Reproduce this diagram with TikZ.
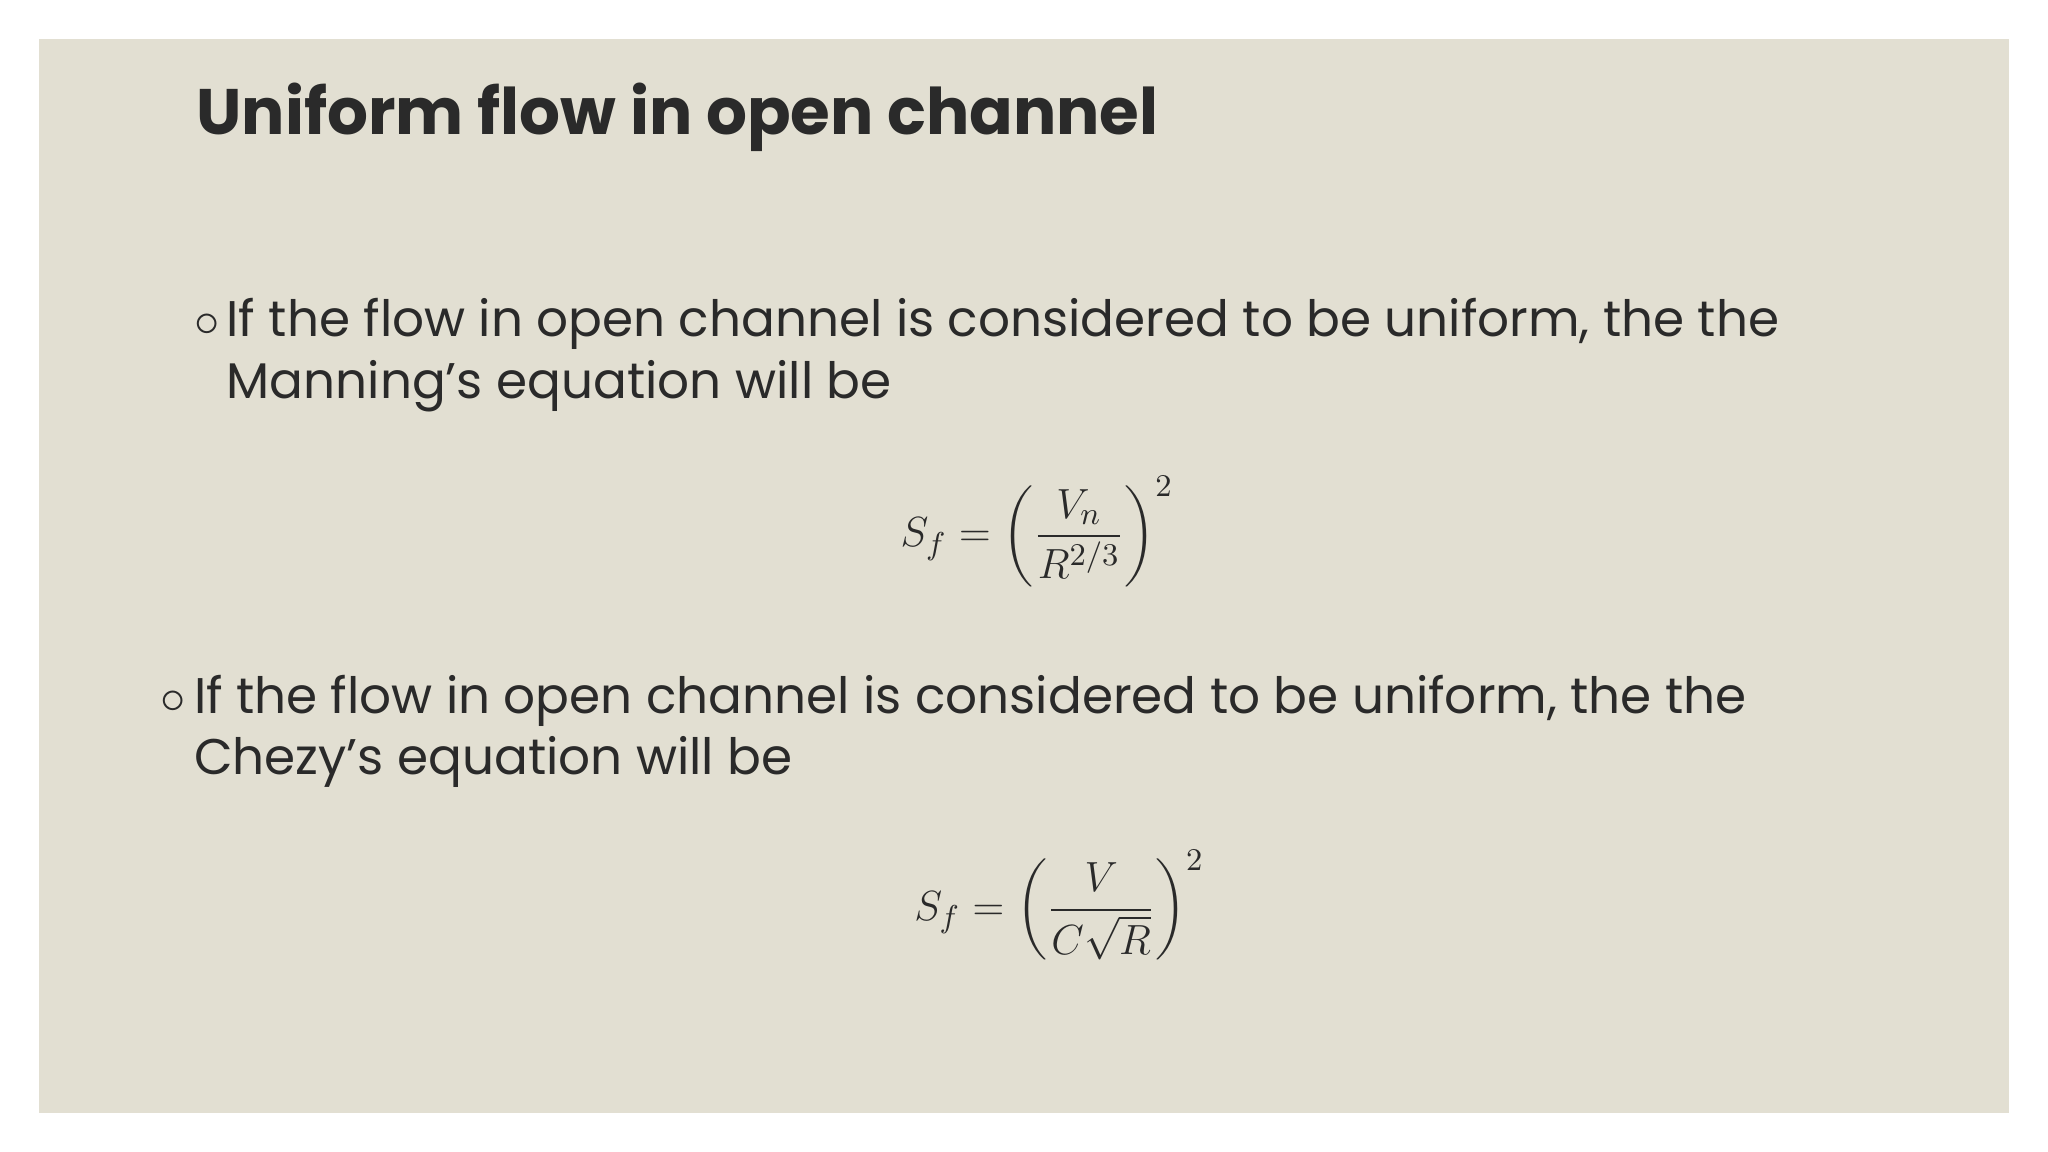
\documentclass[tikz,border=0pt]{standalone}
\usepackage{fontspec}
\setmainfont{Poppins}
\usepackage{amsmath}
\definecolor{bg}{HTML}{E2DFD2}
\definecolor{ink}{HTML}{2A2A2A}
\begin{document}
\begin{tikzpicture}[x=0.013061cm,y=-0.013061cm,
  body/.style={anchor=base west,inner sep=0pt,text=ink,font=\fontsize{14.25}{19.5}\selectfont},
  eq/.style={inner sep=0pt,text=ink,font=\fontsize{12.5}{15}\selectfont}]
\useasboundingbox (0,0) rectangle (1568,882);
\fill[white] (0,0) rectangle (1568,882);
\fill[bg] (30,30) rectangle (1538,852);
\node[anchor=base west,inner sep=0pt,text=ink,font=\fontsize{18.3}{22}\bfseries\selectfont] (title) at (150,103) {Uniform flow in open channel};
\node[body] (b1) at (148,258) {$\circ$};
\node[body] (t1) at (173,258) {If the flow in open channel is considered to be uniform, the the};
\node[body] (t1b) at (173,305) {Manning’s equation will be};
\node[eq] (e1) at (794,407) {$S_f=\left(\dfrac{V_n}{R^{2/3}}\right)^{2}$};
\node[body] (b2) at (122,546) {$\circ$};
\node[body] (t2) at (148,546) {If the flow in open channel is considered to be uniform, the the};
\node[body] (t2b) at (148,593) {Chezy’s equation will be};
\node[eq] (e2) at (811,693) {$S_f=\left(\dfrac{V}{C\sqrt{R}}\right)^{2}$};
\end{tikzpicture}
\end{document}
